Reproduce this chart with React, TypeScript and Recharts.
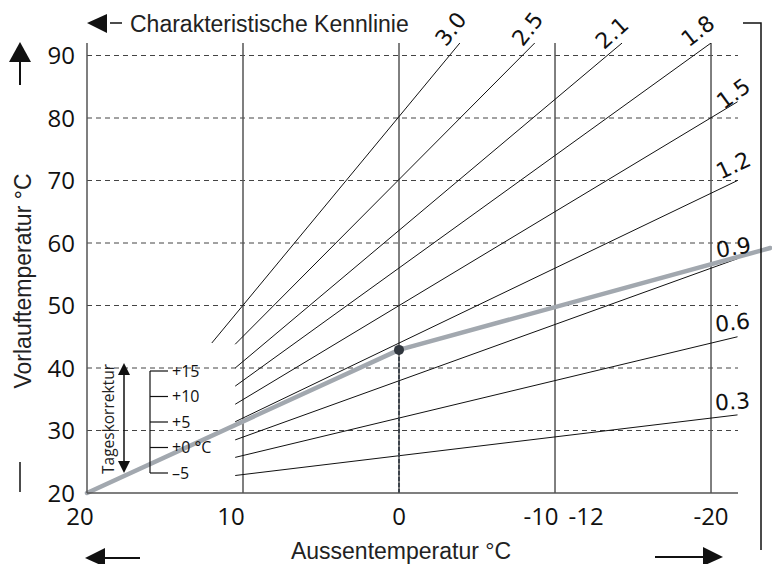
import React from "react";
import { ComposedChart, Line, XAxis, YAxis, ReferenceLine, ReferenceDot } from "recharts";

// Achsen
const xTicks = [20, 10, 0, -10, -12, -20];
const yTicks = [20, 30, 40, 50, 60, 70, 80, 90];
const xGrid = [10, 0, -10, -20];
const yGrid = [30, 40, 50, 60, 70, 80, 90];

// Kennlinien (Anfang, Ende)
const k30 = [{ x: 12, y: 44 }, { x: -3.9, y: 92 }];
const k25 = [{ x: 10.5, y: 43.8 }, { x: -8.7, y: 92 }];
const k21 = [{ x: 10.5, y: 40 }, { x: -14.3, y: 92 }];
const k18 = [{ x: 10.5, y: 37.1 }, { x: -20, y: 92 }];
const k15 = [{ x: 10.5, y: 34.2 }, { x: -21.7, y: 82.6 }];
const k12 = [{ x: 10.5, y: 31.4 }, { x: -21.7, y: 70 }];
const k09 = [{ x: 10.5, y: 28.5 }, { x: -21.7, y: 57.5 }];
const k06 = [{ x: 10.5, y: 25.7 }, { x: -21.7, y: 45 }];
const k03 = [{ x: 10.5, y: 22.8 }, { x: -21.7, y: 32.5 }];

const kennlinien: [string, { x: number; y: number }[]][] = [
  ["3.0", k30],
  ["2.5", k25],
  ["2.1", k21],
  ["1.8", k18],
  ["1.5", k15],
  ["1.2", k12],
  ["0.9", k09],
  ["0.6", k06],
  ["0.3", k03],
];

// eingestellte Heizkurve (grau)
const heizkurve = [
  { x: 20, y: 20 },
  { x: 0, y: 42.9 },
  { x: -23.8, y: 59.2 },
];
const fusspunkt = heizkurve[1];

const tageskorrektur = ["+15", "+10", "+5", "+0 °C", "\u20135"];

// Beschriftung der Kennlinien: Lage relativ zum Linienende
const labelPlace: Record<string, { dx: number; dy: number; angle: number }> = {
  "3.0": { dx: -9, dy: -14, angle: -52 },
  "2.5": { dx: -7, dy: -14, angle: -52 },
  "2.1": { dx: -10, dy: -10, angle: -42 },
  "1.8": { dx: -13, dy: -12, angle: -38 },
  "1.5": { dx: -4, dy: -8, angle: -36 },
  "1.2": { dx: -4, dy: -15, angle: -25 },
  "0.9": { dx: -4, dy: -11, angle: -10 },
  "0.6": { dx: -5, dy: -14, angle: -6 },
  "0.3": { dx: -5, dy: -13, angle: -4 },
};

const tickShift: Record<string, number> = { "20": -7, "10": -12, "-10": -14 };

const font = "'Open Sans', sans-serif";
const helv = "'Liberation Sans', Arial, sans-serif";

const makeLabel = (name: string) => (p: any) => {
  if (p.index !== 1) return <g key={`l${p.index}`} />;
  const pl = labelPlace[name];
  const cx = p.x + pl.dx;
  const cy = p.y + pl.dy;
  return (
    <text
      key={`l${p.index}`}
      x={cx}
      y={cy}
      transform={`rotate(${pl.angle} ${cx} ${cy})`}
      textAnchor="middle"
      dominantBaseline="central"
      fontFamily="'DejaVu Sans', sans-serif"
      fontSize={22}
      fill="#111"
    >
      {name}
    </text>
  );
};

const XTick = (p: any) => {
  const v = p.payload.value;
  const shift = tickShift[String(v)] || 0;
  return (
    <text x={p.x + shift} y={p.y + 1} dy="0.71em" textAnchor="middle" fontFamily={font} fontSize={24} fill="#111">
      {v}
    </text>
  );
};

function Decor() {
  return (
    <svg width={772} height={564} style={{ position: "absolute", left: 0, top: 0, pointerEvents: "none" }}>
      {/* Titel oben */}
      <polygon points="87,23 107,14 107,33" fill="#111" />
      <line x1={110} y1={23} x2={122} y2={23} stroke="#111" strokeWidth={1.5} />
      <text x={130} y={32} fontFamily={helv} fontSize={23} fill="#222">
        Charakteristische Kennlinie
      </text>

      {/* y-Achse */}
      <polygon points="20,42 9,62 31,62" fill="#111" />
      <line x1={20} y1={62} x2={20} y2={85} stroke="#111" strokeWidth={2} />
      <line x1={20} y1={462} x2={20} y2={492} stroke="#111" strokeWidth={1.5} />
      <text
        x={31}
        y={281}
        transform="rotate(-90 31 281)"
        textAnchor="middle"
        fontFamily={helv}
        fontSize={23}
        fill="#222"
      >
        Vorlauftemperatur °C
      </text>

      {/* x-Achse */}
      <text x={401} y={559} textAnchor="middle" fontFamily={helv} fontSize={23} fill="#222">
        Aussentemperatur °C
      </text>
      <polygon points="85,558 105,548 105,567" fill="#111" />
      <line x1={105} y1={558} x2={140} y2={558} stroke="#111" strokeWidth={2} />
      <line x1={655} y1={557} x2={705} y2={557} stroke="#111" strokeWidth={2} />
      <polygon points="723,557 703,547 703,566" fill="#111" />

      {/* Klammer rechts */}
      <polyline points="743,23 761,23 761,550" fill="none" stroke="#111" strokeWidth={1.5} />

      {/* Tageskorrektur */}
      <polygon points="124,363 118,375 130,375" fill="#111" />
      <polygon points="124,473 118,461 130,461" fill="#111" />
      <line x1={124} y1={372} x2={124} y2={464} stroke="#111" strokeWidth={1.5} />
      <text
        x={114}
        y={419}
        transform="rotate(-90 114 419)"
        textAnchor="middle"
        fontFamily={font}
        fontSize={15.5}
        fill="#222"
      >
        Tageskorrektur
      </text>
      <line x1={150} y1={371} x2={150} y2={473} stroke="#111" strokeWidth={1.2} />
      {tageskorrektur.map((t, i) => {
        const y = 371 + i * 25.5;
        return (
          <g key={t}>
            <line x1={150} y1={y} x2={168} y2={y} stroke="#111" strokeWidth={1.2} />
            <text x={172} y={y} dy="0.36em" fontFamily={font} fontSize={16} fill="#111">
              {t}
            </text>
          </g>
        );
      })}
    </svg>
  );
}

export default function App() {
  return (
    <div style={{ position: "absolute", left: 0, top: 0, width: 772, height: 564, background: "#fff" }}>
      <ComposedChart width={772} height={564} margin={{ top: 43, right: 34, bottom: 41, left: 0 }}>
        <XAxis
          type="number"
          dataKey="x"
          domain={[-21.73, 20]}
          reversed
          allowDataOverflow
          ticks={xTicks}
          interval={0}
          tick={<XTick />}
          tickLine={false}
          tickSize={0}
          tickMargin={14}
          height={30}
          axisLine={{ stroke: "#555", strokeWidth: 1.5 }}
        />
        <YAxis
          type="number"
          domain={[20, 92]}
          allowDataOverflow
          ticks={yTicks}
          interval={0}
          width={87}
          tickLine={false}
          tickSize={0}
          tickMargin={12}
          tick={{ fontFamily: font, fontSize: 24, fill: "#111" }}
          axisLine={{ stroke: "#555", strokeWidth: 1.5 }}
        />
        {yGrid.map((v) => (
          <ReferenceLine key={`h${v}`} y={v} stroke="#444" strokeWidth={1} strokeDasharray="5 4" />
        ))}
        {xGrid.map((v) => (
          <ReferenceLine key={`v${v}`} x={v} stroke="#555" strokeWidth={1.5} />
        ))}
        {kennlinien.map(([name, data]) => (
          <Line
            key={name}
            data={data}
            dataKey="y"
            stroke="#111"
            strokeWidth={1}
            dot={false}
            activeDot={false}
            isAnimationActive={false}
            label={makeLabel(name)}
          />
        ))}
        <ReferenceLine
          segment={[{ x: fusspunkt.x, y: 20 }, fusspunkt]}
          stroke="#3d444c"
          strokeWidth={2}
          strokeDasharray="4 2"
          ifOverflow="visible"
        />
        {heizkurve.slice(1).map((p, i) => (
          <ReferenceLine
            key={`hk${i}`}
            segment={[heizkurve[i], p]}
            stroke="#a2a8af"
            strokeWidth={4.5}
            strokeLinecap="round"
            ifOverflow="visible"
          />
        ))}
        <ReferenceDot x={fusspunkt.x} y={fusspunkt.y} r={5} fill="#30363e" stroke="none" ifOverflow="visible" />
      </ComposedChart>
      <Decor />
    </div>
  );
}
